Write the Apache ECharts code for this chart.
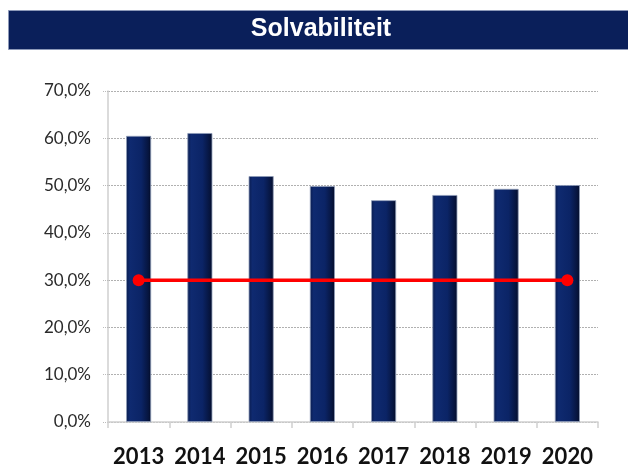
<!DOCTYPE html>
<html>
<head>
<meta charset="utf-8">
<script src="https://cdn.jsdelivr.net/npm/echarts@6/dist/echarts.min.js"></script>
<style>
  html, body { margin: 0; padding: 0; background: #fff; }
  #container { width: 628px; height: 465px; }
</style>
</head>
<body>
<div id="container"></div>
<script>
var years = ['2013', '2014', '2015', '2016', '2017', '2018', '2019', '2020'];
var solvency = [60.5, 61.1, 52.0, 49.9, 46.9, 48.0, 49.3, 50.1];
var norm = [30, 30, 30, 30, 30, 30, 30, 30];
var yTicks = [0, 10, 20, 30, 40, 50, 60, 70];

var dom = document.getElementById('container');
var myChart = echarts.init(dom);

var option = {
    animation: false,
    graphic: [{
        type: 'rect',
        left: 8, top: 10,
        shape: { width: 625, height: 39 },
        style: { fill: '#0a1f5a', stroke: '#8c98b8', lineWidth: 1 }
    }, {
        type: 'text',
        x: 321, y: 17,
        style: {
            text: 'Solvabiliteit',
            fill: '#fff',
            align: 'center',
            font: 'bold 25px "Liberation Sans", Arial, sans-serif'
        }
    }],
    grid: { left: 108, right: 30, top: 91, bottom: 43, outerBoundsMode: 'none', containLabel: false },
    xAxis: {
        type: 'category',
        data: years,
        axisLine: { lineStyle: { color: '#cfcfcf', width: 1.5 } },
        axisTick: { show: true, length: 6, lineStyle: { color: '#cfcfcf', width: 1.5 } },
        axisLabel: {
            interval: 0,
            color: '#111',
            fontFamily: 'Lato, "Open Sans", sans-serif',
            fontWeight: 'bold',
            fontSize: 22,
            margin: 24
        }
    },
    yAxis: {
        type: 'value',
        min: yTicks[0],
        max: yTicks[yTicks.length - 1],
        interval: 10,
        axisLine: { show: true, lineStyle: { color: '#cfcfcf', width: 1.5 } },
        axisTick: { show: true, length: 6, lineStyle: { color: '#bbbbbb', type: 'dotted' } },
        splitLine: { show: true, lineStyle: { color: '#b0b0b0', type: [2, 1], width: 1 } },
        axisLabel: {
            color: '#2a2a2a',
            fontFamily: 'Lato, "Open Sans", sans-serif',
            fontSize: 17,
            margin: 17,
            formatter: function (v) {
                return v.toFixed(1).replace('.', ',') + '%';
            }
        }
    },
    series: [{
        type: 'bar',
        data: solvency,
        barWidth: 25,
        itemStyle: {
            color: new echarts.graphic.LinearGradient(0, 0, 1, 0, [
                { offset: 0, color: '#0a1c4e' },
                { offset: 0.15, color: '#0f2a70' },
                { offset: 0.6, color: '#0b2466' },
                { offset: 0.9, color: '#06143d' },
                { offset: 1, color: '#020a24' }
            ]),
            borderColor: '#8d9ab8',
            borderWidth: 0.8
        }
    }, {
        type: 'line',
        data: norm,
        symbol: 'circle',
        symbolSize: function (v, params) {
            return (params.dataIndex === 0 || params.dataIndex === norm.length - 1) ? 12 : 0;
        },
        lineStyle: { color: '#ff0000', width: 3.5 },
        itemStyle: { color: '#ff0000' }
    }]
};

if (option && typeof option === 'object') {
    myChart.setOption(option, true);
}
</script>
</body>
</html>
